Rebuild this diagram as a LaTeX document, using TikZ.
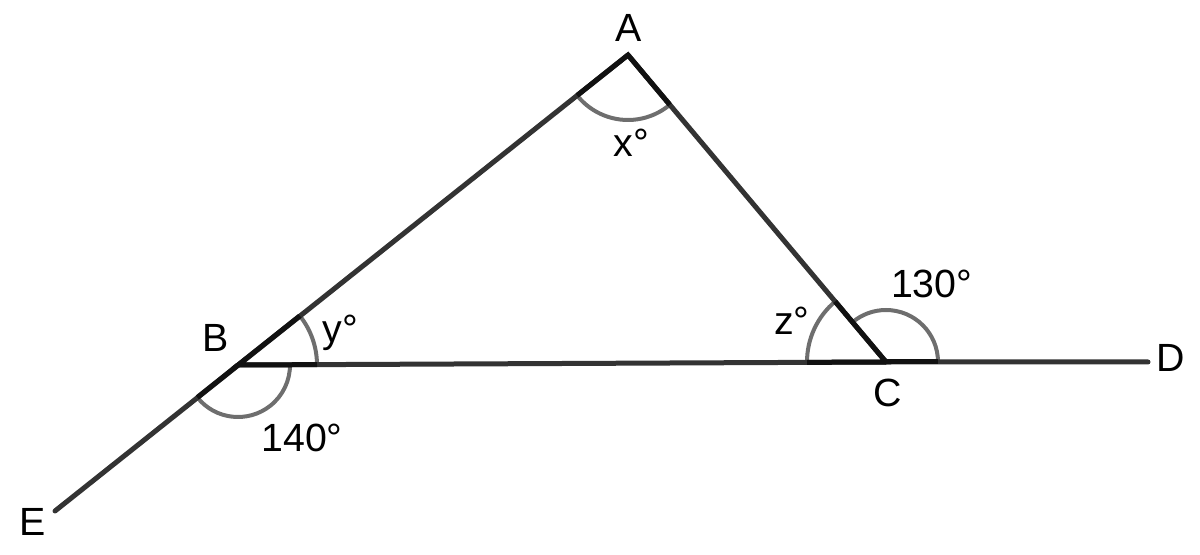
\documentclass[tikz,border=0pt]{standalone}
\usepackage{fontspec}
\setmainfont{Liberation Sans}
\usetikzlibrary{angles,calc}
\definecolor{linec}{HTML}{333333}
\definecolor{darkc}{HTML}{111111}
\definecolor{arcc}{HTML}{6E6E6E}
\begin{document}
\begin{tikzpicture}[x=0.75pt,y=0.75pt,
  seg/.style={line width=3.75pt, draw=linec, line cap=round, line join=round},
  dark/.style={line width=3.75pt, draw=darkc, line cap=butt},
  ang/.style={draw=arcc, line width=3pt},
  lbl/.style={font=\fontsize{29.5}{35}\selectfont, inner sep=0pt, text=black}]
\useasboundingbox (0,0) rectangle (1200,554);
% vertices
\coordinate (A) at (628,499);
\coordinate (B) at (238,189);
\coordinate (C) at (886,192);
\coordinate (D) at (1148,192);
\coordinate (E) at (55,43);
% angle arcs
\pic[ang, angle radius=48.75pt] {angle=B--A--C};
\pic[ang, angle radius=59.25pt] {angle=C--B--A};
\pic[ang, angle radius=39pt] {angle=E--B--C};
\pic[ang, angle radius=59.25pt] {angle=A--C--B};
\pic[ang, angle radius=39pt] {angle=D--C--A};
% lines
\draw[seg] (E) -- (A) -- (C) -- (D);
\draw[seg] (B) -- (C);
% darker parts inside the arcs
\draw[dark] ($(A)!48.75pt!(B)$) -- (A) -- ($(A)!48.75pt!(C)$);
\draw[dark] ($(B)!59.25pt!(A)$) -- (B) -- ($(B)!59.25pt!(C)$);
\draw[dark] (B) -- ($(B)!39pt!(E)$);
\draw[dark] ($(C)!59.25pt!(A)$) -- (C) -- ($(C)!59.25pt!(B)$);
\draw[dark] (C) -- ($(C)!39pt!(D)$);
% labels
\node[lbl] (lA) at (629,525.7) {A};
\node[lbl] (lB) at (216,216) {B};
\node[lbl] (lC) at (888,161.5) {C};
\node[lbl] (lD) at (1171,196) {D};
\node[lbl] (lE) at (33,32) {E};
\node[lbl] (lx) at (631.5,411.5) {x°};
\node[lbl] (ly) at (340.5,221.5) {y°};
\node[lbl] (lz) at (792,233) {z°};
\node[lbl] (l130) at (931.7,270) {130°};
\node[lbl] (l140) at (302,116) {140°};
\end{tikzpicture}
\end{document}
